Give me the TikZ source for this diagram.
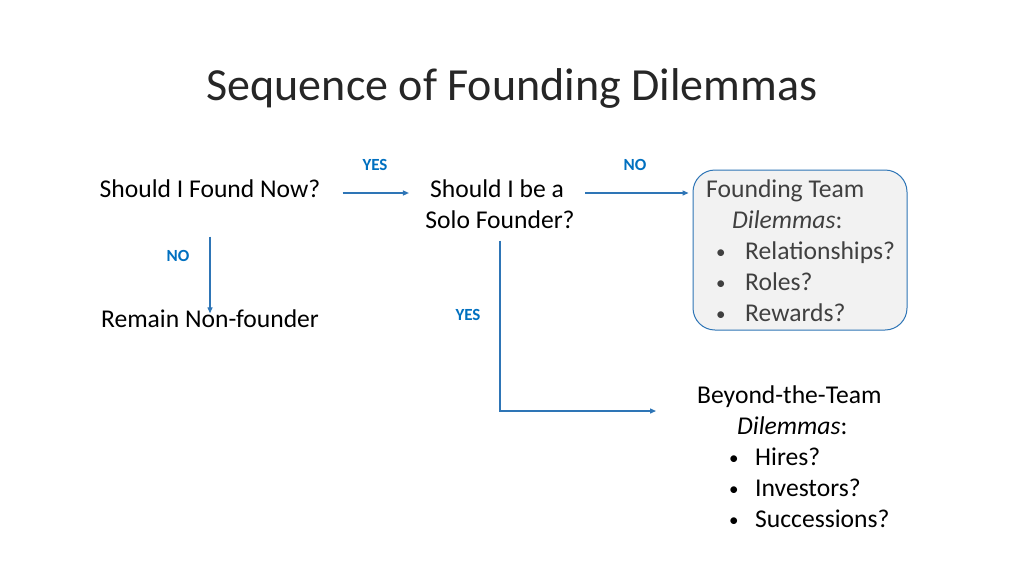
\documentclass[tikz,border=0pt]{standalone}
\usepackage{fontspec}
\setmainfont{Carlito}
\usetikzlibrary{arrows.meta}
\definecolor{arrblue}{HTML}{2E75B6}
\definecolor{lblblue}{HTML}{0070C0}
\definecolor{boxgrey}{HTML}{F2F2F2}
\definecolor{txtgrey}{HTML}{404040}
\definecolor{titlegrey}{HTML}{262626}
\newcommand{\smallbul}{\raisebox{0.5pt}{\fontsize{19}{19}\selectfont •}}
\tikzset{
  txt/.style={inner sep=0pt, font=\fontsize{25.6}{31}\selectfont, text height=0.85em, text depth=0.05em},
  lbl/.style={inner sep=0pt, font=\fontsize{17}{19}\selectfont\bfseries, text=lblblue},
  arr/.style={draw=arrblue, line width=1.3pt, -{Triangle[length=6pt,width=5pt]}},
  teambox/.style={draw=arrblue, line width=1pt, fill=boxgrey, rounded corners=22pt, minimum width=214pt, minimum height=160pt, inner sep=0pt}
}
\begin{document}
\begin{tikzpicture}[x=1pt,y=-1pt]
\useasboundingbox[fill=white] (0,0) rectangle (1024,576);
\node[inner sep=0pt, font=\fontsize{46}{52}\selectfont, text=titlegrey, anchor=base] (title) at (512,100) {Sequence of Founding Dilemmas};

\node[txt, anchor=base] (q1) at (210,197) {Should I Found Now?};
\node[txt, anchor=base] (q2a) at (497,197) {Should I be a};
\node[txt, anchor=base] (q2b) at (500,228) {Solo Founder?};
\node[txt, anchor=base] (rem) at (210,327) {Remain Non-founder};

\node[teambox] (fb) at (800,250) {};
\begin{scope}[every node/.append style={text=txtgrey}]
\node[txt, anchor=base west] (f1) at (706,197) {Founding Team};
\node[txt, anchor=base west] (f2) at (732,228) {\itshape Dilemmas\upshape:};
\node[txt, anchor=base west] (f3b) at (716,259) {\smallbul};
\node[txt, anchor=base west] (f3) at (745,259) {Relationships?};
\node[txt, anchor=base west] (f4b) at (716,290) {\smallbul};
\node[txt, anchor=base west] (f4) at (745,290) {Roles?};
\node[txt, anchor=base west] (f5b) at (716,321) {\smallbul};
\node[txt, anchor=base west] (f5) at (745,321) {Rewards?};
\end{scope}

\node[txt, anchor=base west] (b1) at (697,403) {Beyond-the-Team};
\node[txt, anchor=base west] (b2) at (737,434) {\itshape Dilemmas\upshape:};
\node[txt, anchor=base west] (b3b) at (729,465) {\smallbul};
\node[txt, anchor=base west] (b3) at (755,465) {Hires?};
\node[txt, anchor=base west] (b4b) at (729,496) {\smallbul};
\node[txt, anchor=base west] (b4) at (755,496) {Investors?};
\node[txt, anchor=base west] (b5b) at (729,527) {\smallbul};
\node[txt, anchor=base west] (b5) at (755,527) {Successions?};

\node[lbl] (yes1) at (375,165) {YES};
\node[lbl] (no1) at (635,165) {NO};
\node[lbl] (no2) at (178,256) {NO};
\node[lbl] (yes2) at (468,315) {YES};

\draw[arr, shorten <=22pt, shorten >=21pt] (q1.east) -- (q1.east -| q2a.west);
\draw[arr, shorten <=21pt, shorten >=4pt] (q2a.east) -- (q2a.east -| fb.west);
\draw[arr, shorten <=39pt, shorten >=5pt] (q1.south) -- (q1.south |- rem.north);
\draw[arr, shorten <=12pt, shorten >=41pt] (q2b.south) |- ([yshift=-12pt]b1.west);
\end{tikzpicture}
\end{document}
